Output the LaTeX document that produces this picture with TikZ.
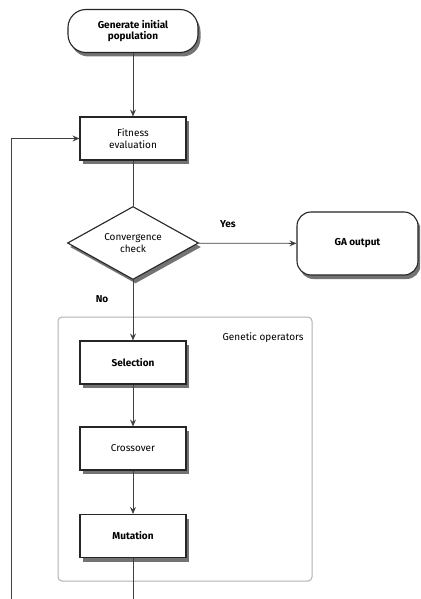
\documentclass[tikz,border=0pt]{standalone}
\usepackage{fontspec}
\setmainfont{Fira Sans}
\usetikzlibrary{shapes.geometric,shadows,arrows.meta,calc}
\begin{document}
\begin{tikzpicture}[x=1pt,y=-1pt,
  font=\fontsize{10}{11.5}\selectfont,
  shad/.style={drop shadow={shadow xshift=2.5pt,shadow yshift=-4pt,opacity=0.55,fill=black}},
  boxnode/.style={draw=black!85,line width=1.1pt,fill=white,shad,minimum width=106pt,minimum height=43pt,inner sep=0pt,align=center},
  termnode/.style={draw=black!85,line width=1.1pt,fill=white,shad,rounded corners=18pt,inner sep=0pt,align=center},
  decnode/.style={diamond,aspect=1.8,draw=black!85,line width=1.1pt,fill=white,shad,minimum width=131pt,minimum height=73pt,inner sep=0pt,align=center},
  conn/.style={draw=black!75,line width=0.8pt,-{Stealth[length=7pt,width=6pt,inset=2.5pt]}},
  plainconn/.style={draw=black!75,line width=0.8pt},
  grp/.style={draw=black!30,line width=1pt,rounded corners=4pt},
  lbl/.style={font=\fontsize{10}{11.5}\selectfont\bfseries}
]
\clip (0,0) rectangle (420,599);
\fill[white] (0,0) rectangle (420,599);

\draw[grp] (58,317) rectangle (312,581);
\node[anchor=east] (glabel) at (307,338) {Genetic operators};

\node[termnode,minimum width=130pt,minimum height=43pt] (gen) at (133,31) {\bfseries Generate initial\\\bfseries population};
\node[boxnode] (fit) at (133,138.5) {Fitness\\evaluation};
\node[decnode] (conv) at (133,243) {Convergence\\check};
\node[termnode,rounded corners=14pt,minimum width=121pt,minimum height=63pt] (ga) at (357.5,243.5) {\bfseries GA output};
\node[boxnode] (sel) at (133,362.5) {\bfseries Selection};
\node[boxnode] (cross) at (133,448.5) {Crossover};
\node[boxnode] (mut) at (133,536) {\bfseries Mutation};

\node[lbl] (yes) at (228,224) {Yes};
\node[lbl] (no) at (102,299) {No};

\coordinate (loopbot) at (133,620);
\coordinate (loopleft) at (11,620);

\draw[conn] (gen) -- (fit);
\draw[plainconn] (fit) -- (conv);
\draw[conn] (conv) -- (ga);
\draw[conn] (conv) -- (sel);
\draw[conn] (sel) -- (cross);
\draw[conn] (cross) -- (mut);
\draw[conn] (mut) -- (loopbot) -- (loopleft) |- (fit);
\end{tikzpicture}
\end{document}
